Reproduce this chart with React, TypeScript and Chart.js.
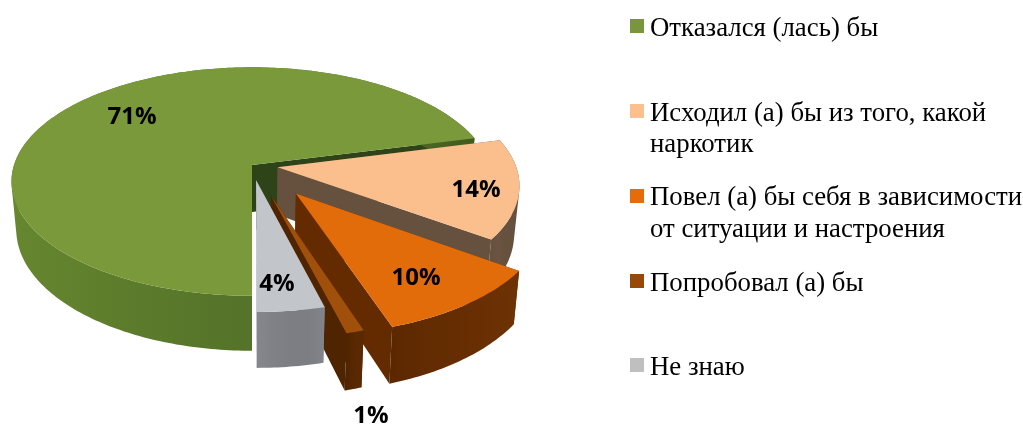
import React, { useEffect, useRef } from "react";
import { Chart, registerables } from "chart.js";

Chart.register(...registerables);

const categories: string[][] = [
  ["Отказался (лась) бы"],
  ["Исходил (а) бы из того, какой", "наркотик"],
  ["Повел (а) бы себя в зависимости", "от ситуации и настроения"],
  ["Попробовал (а) бы"],
  ["Не знаю"],
];
const values = [71, 14, 10, 1, 4];
const valueLabels = ["71%", "14%", "10%", "1%", "4%"];
const explode = [0, 26, 72, 66, 32];
const sliceScale = [1, 1, 1, 1, 0.97];
const topColors = ["#7A993B", "#FBBF8D", "#E36C0A", "#A0500A", "#C2C5CA"];
const legendColors = ["#7A963C", "#FBC08E", "#E46C0A", "#984807", "#BFBFBF"];
const edgeColors = ["#2F4319", "#66503E", "#642B01", "#4F2401", "#7C7E83"];
const wallStops = [
  ["#66872F", "#5C7C2C", "#557329", "#5B752D", "#3F5A1E"],
  ["#66503E", "#6B5441", "#66503E", "#66503E", "#66503E"],
  ["#5C2801", "#622B01", "#662D02", "#6A3003", "#6E3204"],
  ["#4F2401", "#552701", "#5A2902", "#5A2902", "#5A2902"],
  ["#85878C", "#7F8186", "#7C7E83", "#7C7E83", "#82848A"],
];
const paintOrder = [0, 1, 2, 3, 4];
const labelPositions = [
  [132, 117],
  [476, 190],
  [416, 278],
  [371, 416],
  [277, 284],
];
const legendSwatchY = [19, 104, 189, 274, 358];
const legendBaselines = [[36], [121, 152], [205, 237], [291], [375]];

const RADIUS = 238;
const TILT = 0.47;
const PERSPECTIVE = 0.145;
const DEPTH = 47;
const DEPTH_SHRINK = 0.02;

type Pt = [number, number];

const pie3d = {
  id: "pie3d",
  beforeDatasetsDraw(chart: any) {
    const ctx: CanvasRenderingContext2D = chart.ctx;
    const arcs = chart.getDatasetMeta(0).data;
    const project = (x: number, y: number, u: number, v: number, z: number): Pt => {
      const w = 1 - (PERSPECTIVE * v) / RADIUS;
      const shrink = 1 - (DEPTH_SHRINK * z) / DEPTH;
      return [x + (u / w) * shrink, y + (TILT * v + z) / w];
    };
    const trace = (pts: Pt[]) => {
      pts.forEach((p, i) => (i ? ctx.lineTo(p[0], p[1]) : ctx.moveTo(p[0], p[1])));
      ctx.closePath();
    };
    const fillPoly = (pts: Pt[], fill: string | CanvasGradient) => {
      ctx.beginPath();
      trace(pts);
      ctx.fillStyle = fill;
      ctx.fill();
    };
    const area = (pts: Pt[]) => {
      let s = 0;
      pts.forEach((p, i) => {
        const q = pts[(i + 1) % pts.length];
        s += p[0] * q[1] - q[0] * p[1];
      });
      return s;
    };
    ctx.save();
    paintOrder.forEach((i) => {
      const arc = arcs[i];
      const mid = (arc.startAngle + arc.endAngle) / 2;
      const off = arc.options.offset || 0;
      const u0 = Math.cos(mid) * off;
      const v0 = Math.sin(mid) * off;
      const r = RADIUS * sliceScale[i];
      const rim = (a: number, z: number) =>
        project(arc.x, arc.y, u0 + Math.cos(a) * r, v0 + Math.sin(a) * r, z);
      const apex = (z: number) => project(arc.x, arc.y, u0, v0, z);
      const n = Math.max(8, Math.ceil((arc.endAngle - arc.startAngle) * 60));
      const anglesList: number[] = [];
      for (let k = 0; k <= n; k++) {
        anglesList.push(arc.startAngle + ((arc.endAngle - arc.startAngle) * k) / n);
      }
      // flat walls along the two cut edges
      fillPoly(
        [apex(0), rim(arc.endAngle, 0), rim(arc.endAngle, DEPTH), apex(DEPTH)],
        edgeColors[i]
      );
      fillPoly(
        [apex(0), rim(arc.startAngle, 0), rim(arc.startAngle, DEPTH), apex(DEPTH)],
        edgeColors[i]
      );
      // curved outer wall: one path of same-wound quads, so there are no seams or holes
      const topRim = anglesList.map((a) => rim(a, 0));
      const lowRim = anglesList.map((a) => rim(a, DEPTH));
      const xs = topRim.map((p) => p[0]);
      const grad = ctx.createLinearGradient(Math.min(...xs), 0, Math.max(...xs), 0);
      wallStops[i].forEach((c, s) => grad.addColorStop(s / (wallStops[i].length - 1), c));
      ctx.beginPath();
      for (let k = 0; k < n; k++) {
        const quad: Pt[] = [topRim[k], topRim[k + 1], lowRim[k + 1], lowRim[k]];
        trace(area(quad) < 0 ? quad.reverse() : quad);
      }
      ctx.fillStyle = grad;
      ctx.fill("nonzero");
      // top face
      fillPoly([apex(0), ...topRim], topColors[i]);
    });
    ctx.restore();
    return false;
  },
  afterDraw(chart: any) {
    const ctx: CanvasRenderingContext2D = chart.ctx;
    ctx.save();
    ctx.fillStyle = "#000";
    ctx.textAlign = "center";
    ctx.textBaseline = "middle";
    ctx.font = "700 24px 'Open Sans'";
    valueLabels.forEach((t, i) => ctx.fillText(t, labelPositions[i][0], labelPositions[i][1]));

    ctx.textAlign = "left";
    ctx.textBaseline = "alphabetic";
    ctx.font = "26.8px 'Liberation Serif'";
    categories.forEach((lines, i) => {
      ctx.fillStyle = legendColors[i];
      ctx.fillRect(630, legendSwatchY[i], 14, 14);
      ctx.fillStyle = "#000";
      lines.forEach((line, j) => ctx.fillText(line, 650, legendBaselines[i][j]));
    });
    ctx.restore();
  },
};

export default function App() {
  const ref = useRef<HTMLCanvasElement>(null);
  useEffect(() => {
    const chart = new Chart(ref.current!, {
      type: "pie",
      data: {
        labels: categories.map((c) => c.join(" ")),
        datasets: [{ data: values, backgroundColor: topColors, offset: explode, borderWidth: 0 }],
      },
      options: {
        responsive: false,
        animation: false,
        rotation: 180,
        layout: { padding: { left: 0, top: 0, right: 519, bottom: 94 } },
        plugins: { legend: { display: false }, tooltip: { enabled: false } },
      },
      plugins: [pie3d],
    } as any);
    return () => chart.destroy();
  }, []);
  return (
    <canvas
      ref={ref}
      width={1023}
      height={424}
      style={{ position: "absolute", left: 0, top: 0, display: "block" }}
    />
  );
}
